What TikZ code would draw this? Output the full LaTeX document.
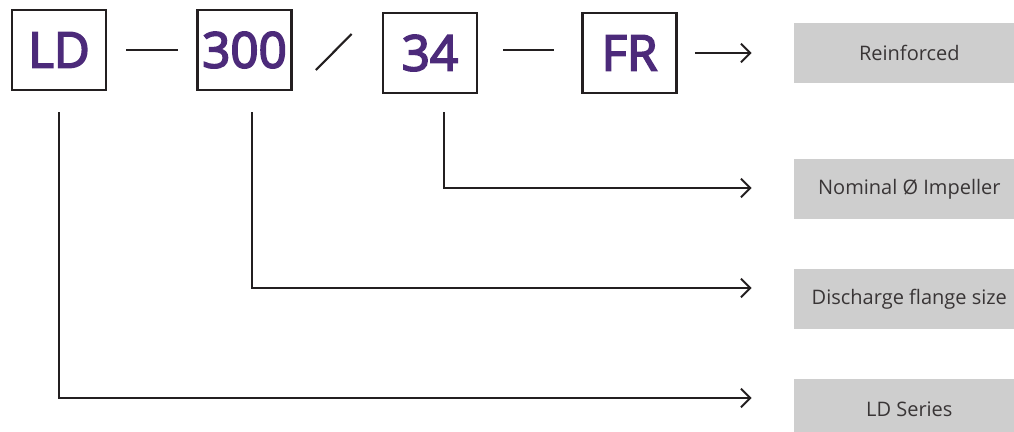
\documentclass[tikz,border=0pt]{standalone}
\usepackage{fontspec}
\setmainfont{Open Sans}
\newfontfamily\codefont{Open Sans}[FakeBold=3.5]
\usetikzlibrary{calc}
\usetikzlibrary{arrows.meta}

\definecolor{codepurple}{RGB}{76,42,122}
\definecolor{labelgray}{RGB}{206,206,206}
\definecolor{inkdark}{RGB}{35,31,32}

\begin{document}
\begin{tikzpicture}[x=0.75pt,y=-0.75pt,
    codebox/.style={draw=inkdark, line width=2pt, minimum width=70.5pt, minimum height=60pt,
        inner sep=0pt, text=codepurple, font=\fontsize{37}{40}\selectfont\codefont},
    labelbox/.style={fill=labelgray, minimum width=165pt, minimum height=45pt,
        inner sep=0pt, text=inkdark!90, font=\fontsize{15}{17}\selectfont},
    conn/.style={draw=inkdark, line width=1.6pt},
    tip/.style={-{Straight Barb[length=7pt,width=14pt,line width=1.5pt]}}]

\useasboundingbox (0,0) rectangle (1014,432);

% les cases du code
\node[codebox] (ld)   at (59,50)    {LD};
\node[codebox] (size) at (244.5,50) {300};
\node[codebox] (imp)  at (430,53)   {34};
\node[codebox] (fr)   at (629.5,53) {FR};

% les etiquettes grises
\node[labelbox] (reinf)  at (904,53)  {\hspace*{8pt}Reinforced};
\node[labelbox] (nomimp) at (904,189) {\hspace*{8pt}Nominal Ø Impeller};
\node[labelbox] (disch)  at (904,299) {\hspace*{8pt}Discharge flange size};
\node[labelbox] (series) at (904,409) {\hspace*{8pt}LD Series};

% separateurs
\draw[conn] ($(ld.east)+(19,0)$) -- ($(size.west)+(-18,0)$);
\draw[conn] ($(size.east)+(23,20)$) -- ($(imp.west)+(-30,-19)$);
\draw[conn] ($(imp.east)+(25,-3)$) -- ($(fr.west)+(-27,-3)$);

% fleches
\draw[conn,tip] ($(fr.east)+(17,0)$) -- ($(reinf.west)+(-42,0)$);
\draw[conn,tip] ($(imp.south)+(14,18)$) |- ($(nomimp.west)+(-42,-1)$);
\draw[conn,tip] ($(size.south)+(7.5,21)$) |- ($(disch.west)+(-42,-11)$);
\draw[conn,tip] ($(ld.south)+(0,21)$) |- ($(series.west)+(-42,-11)$);

\end{tikzpicture}
\end{document}
